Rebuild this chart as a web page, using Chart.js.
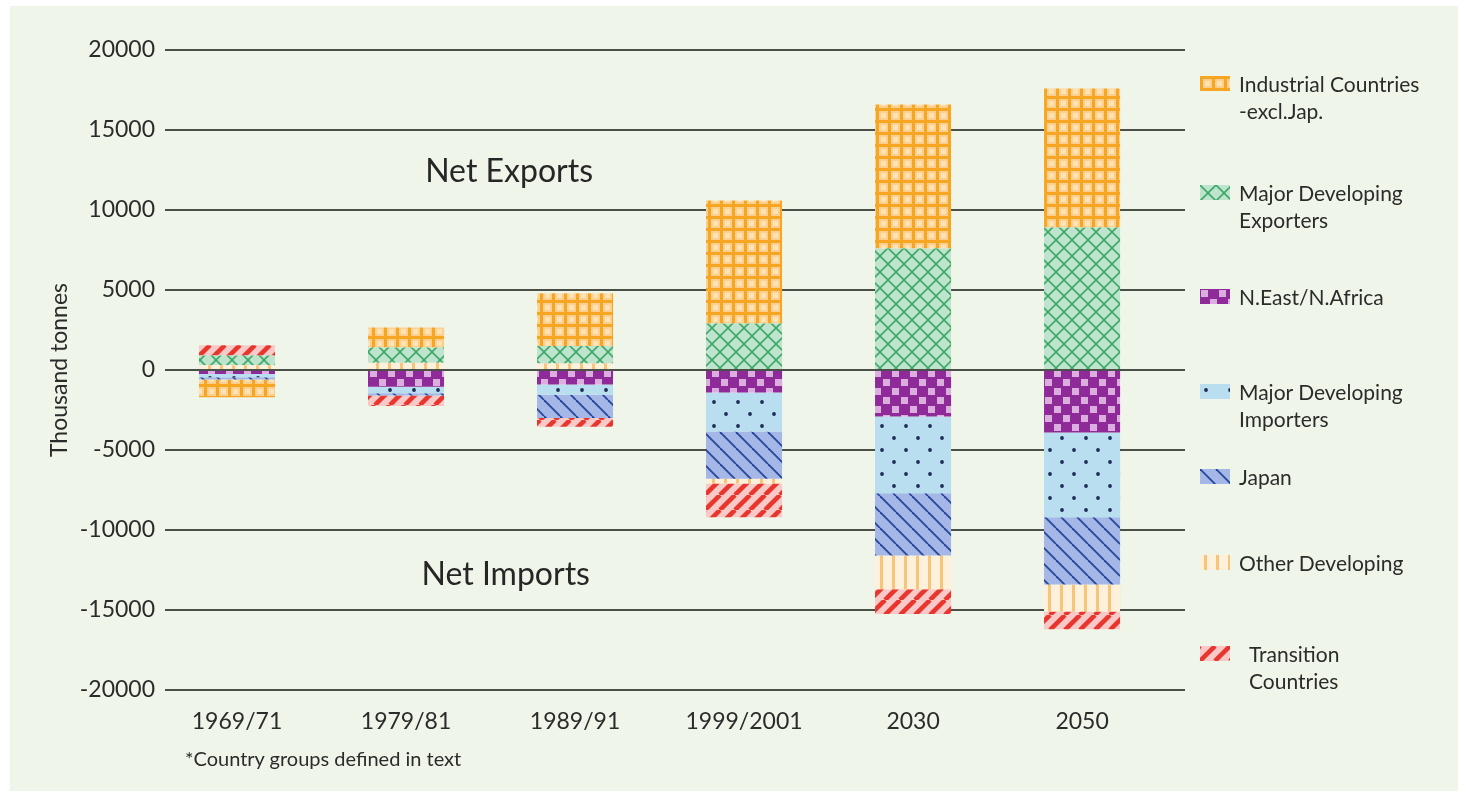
<!DOCTYPE html>
<html>
<head>
<meta charset="utf-8">
<script src="https://cdn.jsdelivr.net/npm/chart.js@4.4.1/dist/chart.umd.min.js"></script>
<style>
html, body { margin: 0; padding: 0; background: #fff; }
body { width: 1468px; height: 799px; position: relative; overflow: hidden; font-family: Lato, sans-serif; color: #2b2b2b; }
#panel { position: absolute; left: 10px; top: 6px; right: 10px; bottom: 8px; background: #f0f5e9; }
#chart { position: absolute; left: 0; top: 0; }
.item { position: absolute; font-size: 21px; line-height: 27px; white-space: pre; }
.swatch { position: absolute; }
#note { position: absolute; left: 185px; top: 746px; font-size: 20px; }
</style>
</head>
<body>
<div id="panel"></div>
<canvas id="chart" width="1468" height="799"></canvas>
<div id="legend"></div>
<div id="note">*Country groups defined in text</div>
<script>
// data (thousand tonnes)
const years = ['1969/71', '1979/81', '1989/91', '1999/2001', '2030', '2050'];
const industrial        = [-1100, 1250, 3300, 7700, 9000, 8700];
const majorDevExporters = [600, 950, 1100, 2900, 7600, 8900];
const nEastNAfrica      = [-250, -1050, -900, -1400, -2900, -3900];
const majorDevImporters = [-200, -400, -650, -2450, -4800, -5300];
const japan             = [-150, -150, -1450, -2950, -3900, -4200];
const otherDeveloping   = [300, 450, 400, -300, -2100, -1700];
const transition        = [650, -650, -550, -2100, -1550, -1100];
const yTicks = [20000, 15000, 10000, 5000, 0, -5000, -10000, -15000, -20000];

const legendNames = ['Industrial Countries\n-excl.Jap.', 'Major Developing\nExporters', 'N.East/N.Africa',
    'Major Developing\nImporters', 'Japan', 'Other Developing', 'Transition\nCountries'];
const notes = [
    { text: 'Net Exports', x: 1.61, y: 12400 },
    { text: 'Net Imports', x: 1.59, y: -12800 }
];

// pattern tiles
function tile(kind) {
    const c = document.createElement('canvas');
    const g = c.getContext('2d');
    let s = 16;
    function diag(col, lw, dir) {
        g.strokeStyle = col; g.lineWidth = lw;
        for (let o = -s; o <= s; o += s) {
            g.beginPath();
            if (dir > 0) { g.moveTo(o, s); g.lineTo(o + s, 0); }
            else { g.moveTo(o, 0); g.lineTo(o + s, s); }
            g.stroke();
        }
    }
    if (kind == 'grid') {
        s = 12; c.width = c.height = s;
        g.fillStyle = '#fbd08f'; g.fillRect(0, 0, s, s);
        g.fillStyle = '#fde2b4'; g.fillRect(5, 5, 5, 5);
        g.fillStyle = '#f6a623'; g.fillRect(0, 0, s, 3); g.fillRect(0, 0, 3, s);
    } else if (kind == 'cross') {
        s = 16; c.width = c.height = s;
        g.fillStyle = '#bfe4cd'; g.fillRect(0, 0, s, s);
        diag('#3ea868', 1.6, 1); diag('#3ea868', 1.6, -1);
    } else if (kind == 'check') {
        s = 18; c.width = c.height = s;
        g.fillStyle = '#8e2b98'; g.fillRect(0, 0, s, s);
        g.fillStyle = '#dcaee0'; g.fillRect(1, 1, 7, 7); g.fillRect(10, 10, 7, 7);
    } else if (kind == 'dots') {
        s = 24; c.width = c.height = s;
        g.fillStyle = '#b9def0'; g.fillRect(0, 0, s, s);
        g.fillStyle = '#1d2b55';
        [[6, 6], [18, 18]].forEach(p => { g.beginPath(); g.arc(p[0], p[1], 1.9, 0, Math.PI * 2); g.fill(); });
    } else if (kind == 'back') {
        s = 16; c.width = c.height = s;
        g.fillStyle = '#a4b7e6'; g.fillRect(0, 0, s, s);
        diag('#27459a', 1.8, -1);
    } else if (kind == 'vert') {
        s = 12; c.width = c.height = s;
        g.fillStyle = '#fdf1dc'; g.fillRect(0, 0, s, s);
        g.fillStyle = '#f7c57a'; g.fillRect(4, 0, 3, s);
    } else if (kind == 'slash') {
        s = 15; c.width = c.height = s;
        g.fillStyle = '#f8c9c6'; g.fillRect(0, 0, s, s);
        diag('#e8362f', 4.5, 1);
    }
    return c;
}

const series = [
    { name: 'N.East/N.Africa', data: nEastNAfrica, kind: 'check' },
    { name: 'Major Developing Importers', data: majorDevImporters, kind: 'dots' },
    { name: 'Japan', data: japan, kind: 'back' },
    { name: 'Other Developing', data: otherDeveloping, kind: 'vert' },
    { name: 'Major Developing Exporters', data: majorDevExporters, kind: 'cross' },
    { name: 'Transition Countries', data: transition, kind: 'slash' },
    { name: 'Industrial Countries -excl.Jap.', data: industrial, kind: 'grid' }
];
const legendKinds = ['grid', 'cross', 'check', 'dots', 'back', 'vert', 'slash'];

const ctx = document.getElementById('chart').getContext('2d');

const datasets = series.map(s => ({
    label: s.name,
    data: s.data.map((v, i) => ({ x: i, y: v })),
    backgroundColor: ctx.createPattern(tile(s.kind), 'repeat'),
    borderWidth: 0,
    barPercentage: 0.45,
    categoryPercentage: 1
}));

const notesPlugin = {
    id: 'notes',
    afterDatasetsDraw(chart) {
        const c = chart.ctx, xs = chart.scales.x, ys = chart.scales.y;
        c.save();
        c.font = '32px Lato';
        c.fillStyle = '#262626';
        c.textAlign = 'center';
        c.textBaseline = 'middle';
        notes.forEach(n => c.fillText(n.text, xs.getPixelForValue(n.x), ys.getPixelForValue(n.y)));
        c.restore();
    }
};

new Chart(ctx, {
    type: 'bar',
    data: { datasets: datasets },
    plugins: [notesPlugin],
    options: {
        responsive: false,
        animation: false,
        devicePixelRatio: 1,
        layout: { padding: { left: 36, right: 283, top: 50, bottom: 0 } },
        plugins: { legend: { display: false }, tooltip: { enabled: false } },
        scales: {
            x: {
                type: 'linear',
                stacked: true,
                offset: false,
                min: -0.426,
                max: 5.609,
                afterFit: s => { s.height = 109; },
                afterBuildTicks: s => { s.ticks = years.map((y, i) => ({ value: i })); },
                grid: { display: false, offset: false },
                border: { display: false },
                ticks: {
                    callback: v => years[v],
                    font: { family: 'Lato', size: 23 },
                    color: '#2b2b2b',
                    padding: 10,
                    maxRotation: 0,
                    autoSkip: false
                }
            },
            y: {
                stacked: true,
                min: -20000,
                max: 20000,
                afterFit: s => { s.width = 165 - 36; },
                afterBuildTicks: s => { s.ticks = yTicks.map(v => ({ value: v })); },
                grid: { color: '#4a4f47', lineWidth: 2, drawTicks: false },
                border: { display: false },
                ticks: {
                    callback: v => String(v),
                    font: { family: 'Lato', size: 23 },
                    color: '#2b2b2b',
                    padding: 10
                },
                title: {
                    display: true,
                    text: 'Thousand tonnes',
                    font: { family: 'Lato', size: 23 },
                    color: '#2b2b2b',
                    padding: { top: 10, bottom: 0 }
                }
            }
        }
    }
});

// legend on the right
const legendY = [84, 193, 297, 392, 477, 563, 654];
const legendBox = document.getElementById('legend');
legendNames.forEach((name, i) => {
    const sw = document.createElement('canvas');
    sw.width = 30; sw.height = 15;
    sw.className = 'swatch';
    sw.style.left = '1200px';
    sw.style.top = (legendY[i] - 8) + 'px';
    const g = sw.getContext('2d');
    g.fillStyle = g.createPattern(tile(legendKinds[i]), 'repeat');
    g.fillRect(0, 0, 30, 15);
    legendBox.appendChild(sw);

    const d = document.createElement('div');
    d.className = 'item';
    d.textContent = name;
    d.style.left = (i == 6 ? 1249 : 1239) + 'px';
    d.style.top = (legendY[i] - 14) + 'px';
    legendBox.appendChild(d);
});
</script>
</body>
</html>
